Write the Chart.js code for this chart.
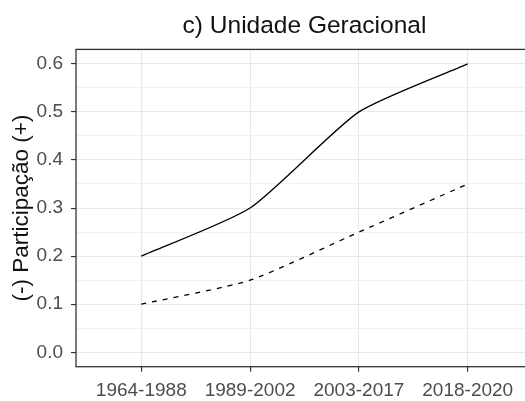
<!DOCTYPE html>
<html>
<head>
<meta charset="utf-8">
<script src="https://cdn.jsdelivr.net/npm/chart.js@4"></script>
<style>
  html, body { margin: 0; padding: 0; background: #fff; overflow: hidden; }
  #clip { width: 525px; height: 401px; overflow: hidden; position: relative; }
  #box { width: 545px; height: 401px; position: absolute; left: 0; top: 0; }
</style>
</head>
<body>
<div id="clip"><div id="box"><canvas id="chart"></canvas></div></div>
<script>
// data
const categories = ["1964-1988", "1989-2002", "2003-2017", "2018-2020"];
const solidValues = [0.2, 0.3, 0.5, 0.6];
const dashedValues = [0.1, 0.15, 0.25, 0.35];
const yMajorTicks = [0, 0.1, 0.2, 0.3, 0.4, 0.5, 0.6];
const yMinorTicks = [0.05, 0.15, 0.25, 0.35, 0.45, 0.55];

const FONT = "'Liberation Sans', Arial, sans-serif";

// points on a numeric x axis so the side margins can match the original
function toPoints(values) {
  return values.map((v, i) => ({ x: i + 1, y: v }));
}

// panel border on all four sides
const panelBorder = {
  id: "panelBorder",
  afterDatasetsDraw(chart) {
    const a = chart.chartArea;
    const ctx = chart.ctx;
    ctx.save();
    ctx.strokeStyle = "#333333";
    ctx.lineWidth = 1.3;
    ctx.strokeRect(a.left, a.top, a.right - a.left, a.bottom - a.top);
    ctx.restore();
  }
};

const ctx = document.getElementById("chart").getContext("2d");

const chart = new Chart(ctx, {
  type: "line",
  data: {
    datasets: [{
      data: toPoints(solidValues),
      borderColor: "#000000",
      borderWidth: 1.3,
      pointRadius: 0,
      tension: 0.2
    }, {
      data: toPoints(dashedValues),
      borderColor: "#000000",
      borderWidth: 1.3,
      borderDash: [5, 6],
      pointRadius: 0,
      tension: 0.2
    }]
  },
  options: {
    responsive: true,
    maintainAspectRatio: false,
    animation: false,
    layout: { padding: { left: 0, right: 12, top: 0, bottom: 0 } },
    plugins: {
      legend: { display: false },
      tooltip: { enabled: false },
      title: {
        display: true,
        fullSize: false,
        text: "c) Unidade Geracional",
        color: "#111111",
        font: { family: FONT, size: 24.5, weight: "normal" },
        padding: { top: 12, bottom: 8 }
      }
    },
    scales: {
      x: {
        type: "linear",
        min: 0.4,
        max: 4.6,
        afterBuildTicks: (scale) => {
          scale.ticks = categories.map((c, i) => ({ value: i + 1 }));
        },
        afterFit: (scale) => { scale.height = 34.3; },
        border: { display: false },
        grid: {
          color: "#e8e8e8",
          lineWidth: 1.1,
          drawTicks: true,
          tickLength: 5,
          tickColor: "#333333",
          tickWidth: 1.2
        },
        ticks: {
          autoSkip: false,
          maxRotation: 0,
          padding: 8,
          color: "#4d4d4d",
          font: { family: FONT, size: 19 },
          callback: (v) => categories[Math.round(v) - 1] || ""
        }
      },
      y: {
        type: "linear",
        min: -0.03,
        max: 0.63,
        afterBuildTicks: (scale) => {
          const all = yMajorTicks.map(v => ({ value: v, minor: false }))
            .concat(yMinorTicks.map(v => ({ value: v, minor: true })));
          all.sort((a, b) => a.value - b.value);
          scale.ticks = all;
        },
        afterFit: (scale) => { scale.width = 76; },
        border: { display: false },
        grid: {
          color: (c) => (c.tick && c.tick.minor) ? "#f0f0f0" : "#e8e8e8",
          lineWidth: 1.1,
          drawTicks: true,
          tickLength: 5,
          tickColor: (c) => (c.tick && c.tick.minor) ? "rgba(0,0,0,0)" : "#333333",
          tickWidth: 1.2
        },
        ticks: {
          autoSkip: false,
          padding: 8,
          color: "#4d4d4d",
          font: { family: FONT, size: 19 },
          callback: (v) => yMajorTicks.some(m => Math.abs(m - v) < 1e-9) ? v.toFixed(1) : ""
        },
        title: {
          display: true,
          text: "(-) Participação (+)",
          color: "#111111",
          font: { family: FONT, size: 22.5 },
          padding: { top: 8, bottom: 0 }
        }
      }
    }
  },
  plugins: [panelBorder]
});
</script>
</body>
</html>
